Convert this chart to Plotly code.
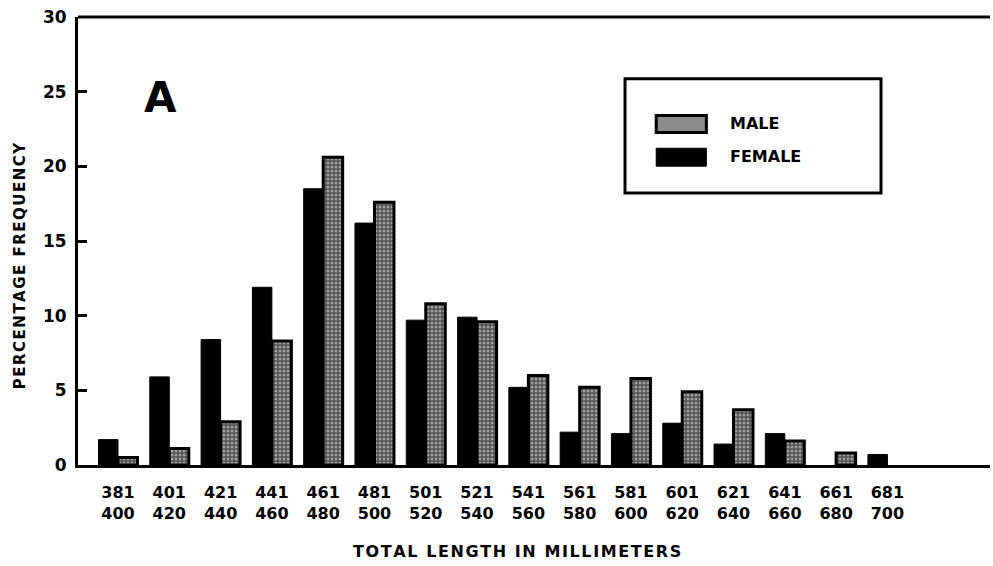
import plotly.graph_objects as go

# Length classes (mm) and percentage frequency for each sex
lengths_lo = ["381", "401", "421", "441", "461", "481", "501", "521",
              "541", "561", "581", "601", "621", "641", "661", "681"]
lengths_hi = ["400", "420", "440", "460", "480", "500", "520", "540",
              "560", "580", "600", "620", "640", "660", "680", "700"]
# None = no specimens of that sex in the class
female_pct = [1.7, 5.9, 8.4, 11.9, 18.5, 16.2, 9.7, 9.9,
              5.2, 2.2, 2.1, 2.8, 1.4, 2.1, None, 0.7]
male_pct = [0.5, 1.1, 2.9, 8.3, 20.6, 17.6, 10.8, 9.6,
            6.0, 5.2, 5.8, 4.9, 3.7, 1.6, 0.8, None]
y_ticks = [0, 5, 10, 15, 20, 25, 30]

xpos = list(range(len(lengths_lo)))
tick_text = [f"{a}<br>{b}" for a, b in zip(lengths_lo, lengths_hi)]

FONT = "DejaVu Sans"
BOLD = dict(family=FONT, color="black", weight="bold")


def spaced(s, gap="\u200a"):
    """Letter-space a caption with hair spaces."""
    return gap.join(s)


fig = go.Figure()
fig.add_bar(
    x=xpos, y=female_pct, name="FEMALE",
    marker=dict(color="black", line=dict(color="black", width=1)),
)
fig.add_bar(
    x=xpos, y=male_pct, name="MALE",
    marker=dict(
        color="#8c8c8c",
        line=dict(color="black", width=3),
        pattern=dict(shape=".", fgcolor="#f0f0f0", bgcolor="#505050",
                     size=4, solidity=0.45, fillmode="overlay"),
    ),
)

fig.update_layout(
    width=993, height=566,
    margin=dict(l=78, r=3, t=17, b=101),
    paper_bgcolor="white", plot_bgcolor="white",
    barmode="group", bargap=0.24, bargroupgap=0.0,
    showlegend=False,
    font=dict(family=FONT, color="black"),
)

fig.update_xaxes(
    range=[-0.78, 17.0],
    tickvals=xpos, ticktext=tick_text,
    tickfont=dict(size=16, **BOLD),
    showline=True, linecolor="black", linewidth=3,
    ticks="", showgrid=False, zeroline=False,
    ticklabelstandoff=11,
)
fig.update_yaxes(
    range=[0, 30], tickvals=y_ticks,
    tickfont=dict(size=17, **BOLD),
    showline=True, linecolor="black", linewidth=3,
    ticks="inside", ticklen=9, tickwidth=3, tickcolor="black",
    showgrid=False, zeroline=False, ticklabelstandoff=5,
)

# top border of the frame
fig.add_shape(type="line", xref="paper", yref="paper",
              x0=0, x1=1, y0=1, y1=1, line=dict(color="black", width=3))

# axis titles
fig.add_annotation(text=spaced("PERCENTAGE FREQUENCY"),
                   xref="paper", yref="paper",
                   x=-0.0636, y=0.446, xanchor="center", yanchor="middle",
                   textangle=-90, showarrow=False,
                   font=dict(size=15, **BOLD))
fig.add_annotation(text=spaced("TOTAL LENGTH IN MILLIMETERS"),
                   xref="paper", yref="paper", x=0.481, y=-0.194,
                   xanchor="center", yanchor="middle", showarrow=False,
                   font=dict(size=16, **BOLD))

# panel letter
fig.add_annotation(text="A", xref="paper", yref="paper", x=0.09, y=0.821,
                   xanchor="center", yanchor="middle", showarrow=False,
                   font=dict(size=42, **BOLD))

# key box
fig.add_shape(type="rect", xref="paper", yref="paper",
              x0=0.5998, x1=0.8805, y0=0.607, y1=0.862,
              line=dict(color="black", width=3), fillcolor="white")
fig.add_shape(type="rect", xref="paper", yref="paper",
              x0=0.634, x1=0.689, y0=0.742, y1=0.780,
              line=dict(color="black", width=3), fillcolor="#8c8c8c")
fig.add_shape(type="rect", xref="paper", yref="paper",
              x0=0.634, x1=0.689, y0=0.667, y1=0.707,
              line=dict(color="black", width=1), fillcolor="black")
fig.add_annotation(text="MALE", xref="paper", yref="paper", x=0.713, y=0.762,
                   xanchor="left", yanchor="middle", showarrow=False,
                   font=dict(size=16, **BOLD))
fig.add_annotation(text="FEMALE", xref="paper", yref="paper", x=0.713, y=0.688,
                   xanchor="left", yanchor="middle", showarrow=False,
                   font=dict(size=16, **BOLD))

fig.write_html("out.html")
